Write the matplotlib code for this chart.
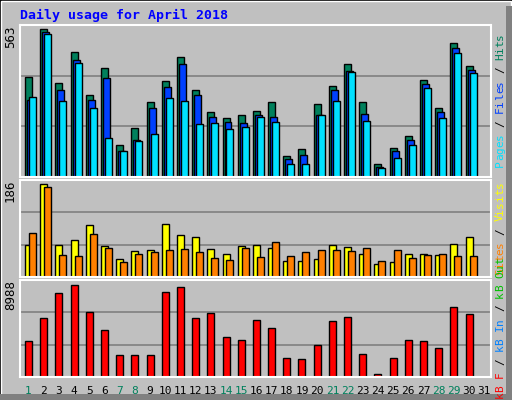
import matplotlib
matplotlib.use("Agg")
import matplotlib.pyplot as plt
from matplotlib.patches import Rectangle
import numpy as np

days = list(range(1, 32))
hits = [369,548,347,462,302,403,119,183,276,354,444,321,242,220,231,246,276,78,104,272,336,418,276,48,108,153,358,254,496,410,0]
files = [284,537,324,433,284,366,97,138,257,332,418,302,224,205,201,228,224,67,82,231,324,392,235,37,97,138,343,239,478,395,0]
pages = [295,529,280,421,257,145,97,134,160,291,280,198,201,179,186,224,205,48,48,228,280,388,209,33,70,119,328,220,459,384,0]
visits = [62,178,62,70,99,60,35,50,52,101,81,76,54,45,60,62,56,31,31,35,62,58,45,25,29,45,45,43,64,76,0]
sites = [85,172,43,41,83,56,29,45,48,52,54,47,37,33,56,39,68,41,48,52,52,50,56,31,52,37,43,45,41,41,0]
kbytes = [3307,5429,7800,8549,6022,4337,1997,1997,1997,7894,8362,5460,5928,3682,3401,5273,4524,1716,1622,2933,5179,5554,2090,312,1716,3401,3307,2652,6490,5834,0]
weekend = [1,7,8,14,15,21,22,28,29]
max_top, max_mid, max_bot = 563, 186, 8988

W, H = 512, 400
fig = plt.figure(figsize=(W/100, H/100), dpi=100)
fig.patch.set_facecolor('#C0C0C0')
mono = 'DejaVu Sans Mono'

fig.add_artist(Rectangle((0,0),1,1,transform=fig.transFigure,fill=False,ec='black',lw=1))
fig.add_artist(Rectangle((1/W,1/H),(W-2)/W,(H-2)/H,transform=fig.transFigure,fill=False,ec='white',lw=1))
fig.add_artist(Rectangle((506/W,0),6/W,394/H,transform=fig.transFigure,color='#808080',lw=0))
fig.add_artist(Rectangle((0,0),512/W,6/H,transform=fig.transFigure,color='#808080',lw=0))

def ax_px(x0, y0, x1, y1):
    return fig.add_axes([x0/W, 1-y1/H, (x1-x0)/W, (y1-y0)/H])

x = np.arange(31)
bw = 0.46

def setup(ax, ymax, label):
    ax.set_facecolor('#C0C0C0')
    ax.set_xlim(0, 31)
    ax.set_ylim(0, ymax)
    ax.set_xticks([]); ax.set_yticks([])
    for s in ax.spines.values():
        s.set_color('white'); s.set_linewidth(1.5)
    for g in (ymax/3, 2*ymax/3):
        ax.axhline(g, color='#808080', lw=1.2, zorder=0)
    ax.text(-0.2, ymax, label, rotation=90, ha='right', va='top', fontsize=9,
            family=mono, color='black', transform=ax.transData, clip_on=False)

ax1 = ax_px(20, 25, 491, 177)
setup(ax1, max_top, str(max_top))
ax1.bar(x+0.33, hits, bw, align='edge', color='#00805C', ec='black', lw=1)
ax1.bar(x+0.46, files, bw, align='edge', color='#0040FF', ec='black', lw=1)
ax1.bar(x+0.59, pages, bw, align='edge', color='#00E0FF', ec='black', lw=1)

ax2 = ax_px(20, 180, 491, 277)
setup(ax2, max_mid, str(max_mid))
ax2.bar(x+0.33, visits, bw, align='edge', color='#FFFF00', ec='black', lw=1)
ax2.bar(x+0.59, sites, bw, align='edge', color='#FF8000', ec='black', lw=1)

ax3 = ax_px(20, 280, 491, 377)
setup(ax3, max_bot, str(max_bot))
ax3.bar(x+0.33, kbytes, bw, align='edge', color='#FF0000', ec='black', lw=1)
for d in days:
    ax3.text(d-1+0.56, -0.09, str(d), transform=ax3.get_xaxis_transform(), ha='center', va='top',
             fontsize=8, family=mono, color='#00805C' if d in weekend else 'black')

fig.text(20/W, 1-15/H, 'Daily usage for April 2018', color='#0000FF', fontsize=9.5,
         family=mono, weight='bold', ha='left', va='center')

FS = 8
CH = 0.602 * FS * 100 / 72

def side(parts, yc):
    # parts listed bottom-to-top; drawn char by char for exact spacing
    text = ''.join(t for t, _ in parts)
    cols = []
    for t, c in parts:
        cols += [c] * len(t)
    total = len(text)
    ybot = yc + total * CH / 2
    for i, (ch, c) in enumerate(zip(text, cols)):
        if ch == ' ':
            continue
        ycen = ybot - (i + 0.5) * CH
        fig.text(500/W, 1-ycen/H, ch, rotation=90, color=c, fontsize=FS, family=mono,
                 ha='center', va='center')

side([('Pages', '#00E0FF'), (' / ', 'black'), ('Files', '#0040FF'), (' / ', 'black'), ('Hits', '#00805C')], 100)
side([('Sites', '#FF8000'), (' / ', 'black'), ('Visits', '#FFFF00')], 228)
side([('kB F', '#FF0000'), (' / ', 'black'), ('kB In', '#0080FF'), (' / ', 'black'), ('kB Out', '#00C000')], 328)

fig.savefig('out.png', dpi=100, facecolor=fig.get_facecolor())
